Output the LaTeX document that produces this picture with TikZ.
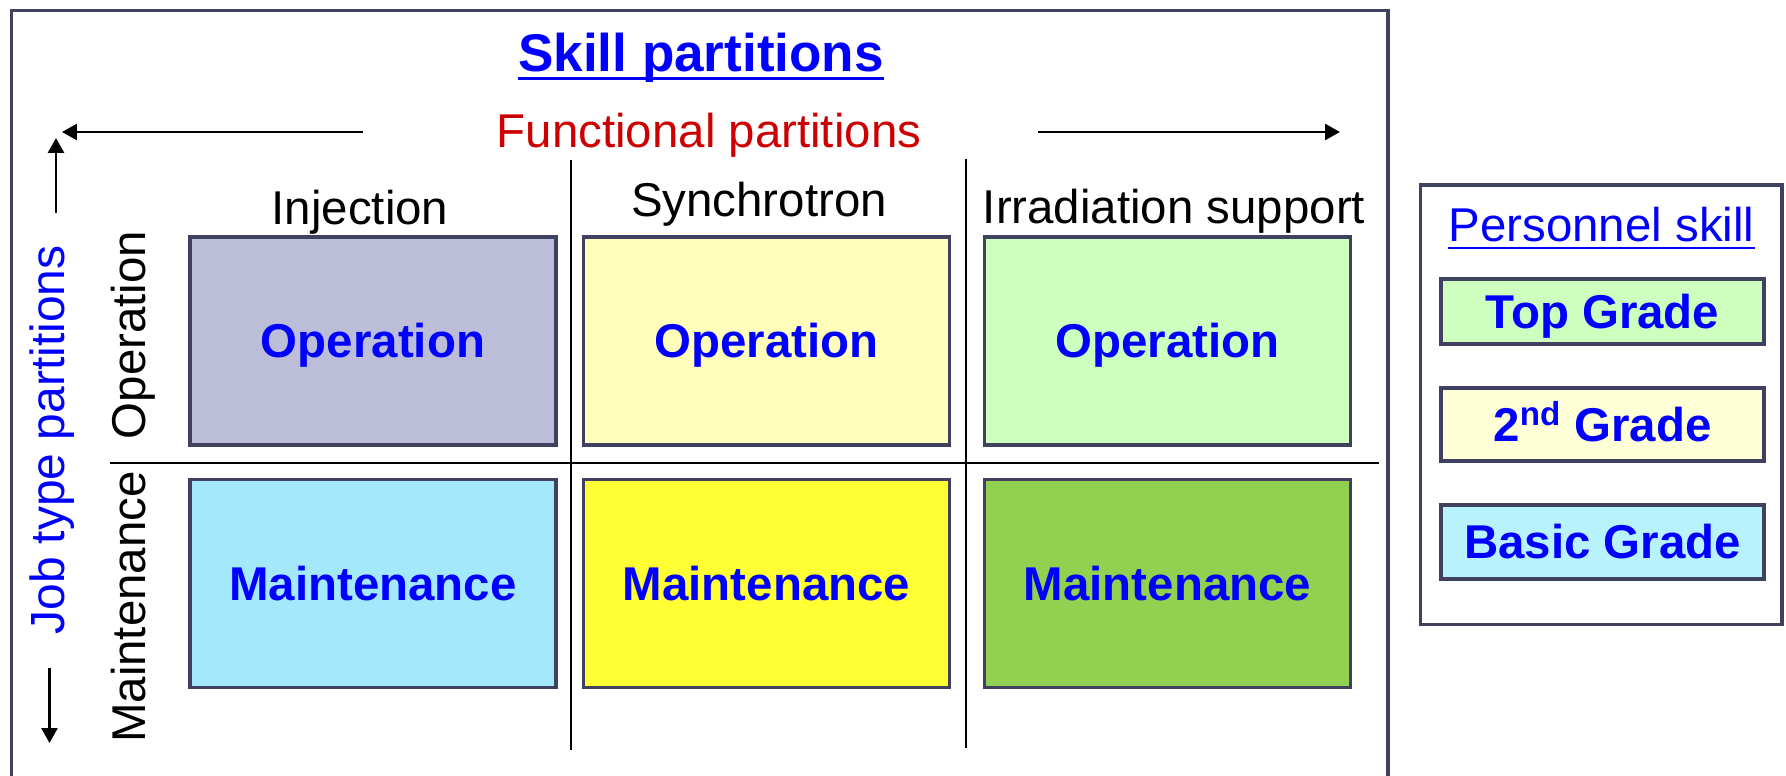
\documentclass[tikz,border=0pt]{standalone}
\usepackage{fontspec}
\setmainfont{Liberation Sans}
\usetikzlibrary{arrows.meta}

\definecolor{boxline}{RGB}{64,64,96}
\definecolor{lblblue}{RGB}{0,0,255}
\definecolor{fnred}{RGB}{204,0,0}
\definecolor{injop}{RGB}{187,189,217}
\definecolor{synop}{RGB}{255,255,187}
\definecolor{irrop}{RGB}{206,255,190}
\definecolor{injmt}{RGB}{164,232,252}
\definecolor{synmt}{RGB}{255,255,51}
\definecolor{irrmt}{RGB}{146,208,80}
\definecolor{topgr}{RGB}{206,255,190}
\definecolor{secgr}{RGB}{255,255,215}
\definecolor{basgr}{RGB}{184,242,252}

\begin{document}
\begin{tikzpicture}[x=0.02cm, y=-0.02cm,
    txt/.style={inner sep=0pt, anchor=base, font=\fontsize{27}{32}\selectfont},
    cell/.style={draw=boxline, line width=0.076cm, inner sep=0pt,
        minimum width=7.32cm, minimum height=4.16cm,
        text height=19.3pt, text depth=0pt,
        font=\fontsize{27}{32}\selectfont\bfseries, text=lblblue},
    grade/.style={cell, minimum width=6.46cm},
    frame/.style={draw=boxline, line width=0.07cm},
    divider/.style={black, line width=0.042cm},
    dirarrow/.style={black, line width=0.055cm, -{Triangle[length=0.3cm, width=0.32cm]}}]

    % Page size
    \useasboundingbox (0,0) rectangle (1786,776);

    % Outer frame (runs off the bottom)
    \draw[frame] (11.6,800) -- (11.6,10.6) -- (1388,10.6) -- (1388,800);

    % Titles
    \node[txt, font=\fontsize{30.2}{36}\selectfont\bfseries, text=lblblue] (skill) at (701,72) {Skill partitions};
    \draw[lblblue, line width=0.056cm] ([yshift=-0.13cm]skill.base west) -- ([yshift=-0.13cm]skill.base east);
    \node[txt, text=fnred] (func) at (709,148) {Functional partitions};

    % Direction arrows
    \coordinate (fnW0) at (363,132);
    \coordinate (fnW1) at (62,132);
    \coordinate (fnE0) at (1038,132);
    \coordinate (fnE1) at (1340,132);
    \coordinate (jbN0) at (56,213);
    \coordinate (jbN1) at (56,138);
    \coordinate (jbS0) at (49.5,668);
    \coordinate (jbS1) at (49.5,743);
    \draw[dirarrow] (fnW0) -- (fnW1);
    \draw[dirarrow] (fnE0) -- (fnE1);
    \draw[dirarrow] (jbN0) -- (jbN1);
    \draw[dirarrow] (jbS0) -- (jbS1);

    % Dividers
    \coordinate (divAt) at (571,160);
    \coordinate (divAb) at (571,750);
    \coordinate (divBt) at (966,159);
    \coordinate (divBb) at (966,748);
    \coordinate (divCl) at (110,463);
    \coordinate (divCr) at (1379,463);
    \draw[divider] (divAt) -- (divAb);
    \draw[divider] (divBt) -- (divBb);
    \draw[divider] (divCl) -- (divCr);

    % Column headers
    \node[txt] (inj) at (360,225) {Injection};
    \node[txt] (syn) at (759,217) {Synchrotron};
    \node[txt] (irr) at (1174,224) {Irradiation support};

    % Row headers
    \node[txt, rotate=90, text=lblblue, font=\fontsize{27.3}{32}\selectfont] (jobtype) at (64,440) {Job type partitions};
    \node[txt, rotate=90] (rowop) at (145,335) {Operation};
    \node[txt, rotate=90] (rowmt) at (145,607) {Maintenance};

    % Cells
    \node[cell, fill=injop] (injopbox) at (373,341) {Operation};
    \node[cell, fill=synop] (synopbox) at (766.5,341) {Operation};
    \node[cell, fill=irrop] (irropbox) at (1167.5,341) {Operation};
    \node[cell, fill=injmt] (injmtbox) at (373,583.5) {Maintenance};
    \node[cell, fill=synmt] (synmtbox) at (766.5,583.5) {Maintenance};
    \node[cell, fill=irrmt] (irrmtbox) at (1167.5,583.5) {Maintenance};

    % Legend
    \draw[frame] (1420.5,185) rectangle (1782,624.7);
    \node[txt, text=lblblue] (pskill) at (1601.5,242) {Personnel skill};
    \draw[lblblue, line width=0.054cm] ([yshift=-0.12cm]pskill.base west) -- ([yshift=-0.12cm]pskill.base east);
    \node[grade, fill=topgr, minimum height=1.3cm] (top) at (1602.5,311.5) {Top Grade};
    \node[grade, fill=secgr, minimum height=1.46cm] (second) at (1602.5,424.5) {2\textsuperscript{nd} Grade};
    \node[grade, fill=basgr, minimum height=1.48cm] (basic) at (1602.5,542) {Basic Grade};
  \end{tikzpicture}
\end{document}
